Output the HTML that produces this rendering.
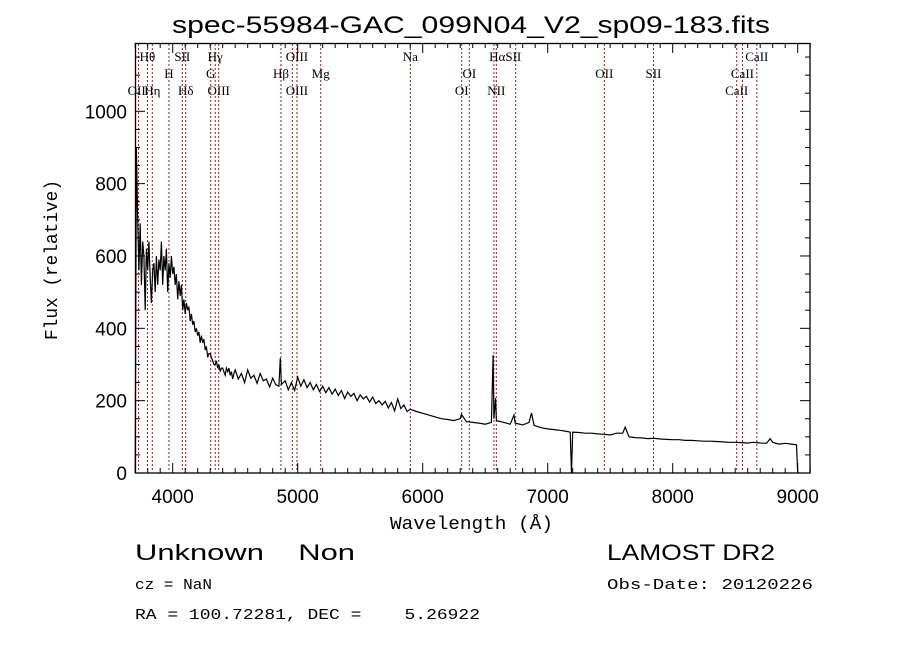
<!DOCTYPE html>
<html><head><meta charset="utf-8"><style>
html,body{margin:0;padding:0;background:#fff;}
svg text{fill:#000;}
</style></head><body>
<svg id="chart" width="900" height="649" xmlns="http://www.w3.org/2000/svg" style="font-family:'Liberation Sans',sans-serif">
<rect width="900" height="649" fill="#fff"/>
<text x="172" y="33" font-size="24" textLength="598" lengthAdjust="spacingAndGlyphs">spec-55984-GAC_099N04_V2_sp09-183.fits</text>
<g id="lines"></g>
<g id="labels" font-family="'Liberation Serif',serif" font-size="13"></g>
<g id="ticks" stroke="#000" stroke-width="1"></g>
<g id="ticklabels" font-size="19"></g>
<polyline id="spec" fill="none" stroke="#000" stroke-width="1.2"/>
<rect x="135.5" y="43.5" width="674.5" height="429.5" fill="none" stroke="#000" stroke-width="1.3"/>
<text x="390" y="529" font-size="18" font-family="'Liberation Mono',monospace" textLength="163" lengthAdjust="spacingAndGlyphs">Wavelength (Å)</text>
<text transform="translate(57,340) rotate(-90)" font-size="18" font-family="'Liberation Mono',monospace" textLength="160" lengthAdjust="spacingAndGlyphs">Flux (relative)</text>
<text x="135" y="560" font-size="22" xml:space="preserve" textLength="220" lengthAdjust="spacingAndGlyphs">Unknown    Non</text>
<text x="607" y="560" font-size="22" textLength="168" lengthAdjust="spacingAndGlyphs">LAMOST DR2</text>
<text x="135" y="589" font-size="15" font-family="'Liberation Mono',monospace" textLength="77" lengthAdjust="spacingAndGlyphs">cz = NaN</text>
<text x="607" y="589" font-size="15" font-family="'Liberation Mono',monospace" textLength="206" lengthAdjust="spacingAndGlyphs">Obs-Date: 20120226</text>
<text x="135" y="619" font-size="15" font-family="'Liberation Mono',monospace" xml:space="preserve" textLength="345" lengthAdjust="spacingAndGlyphs">RA = 100.72281, DEC =    5.26922</text>
</svg>
<script>
const blueStart = 3700, blueStep = 10;
const blueFlux = [0,900,700,560,690,520,640,600,450,620,560,640,540,470,560,580,500,600,520,590,560,640,520,600,560,620,500,580,540,600,550,570,520,550,480,530,490,520,450,480,440,470,450,460,420,440,410,420,390,400,380,390,360,380,360,370,340,350,320,330,330,320,310,300,300,310,290,300,280,290,290,280,270,290,280,290,270,280,260,275,285];
const redWave = [4525,4550,4575,4600,4625,4650,4675,4700,4725,4750,4775,4800,4825,4850,4861,4870,4900,4925,4950,4975,5000,5025,5050,5075,5100,5125,5150,5175,5200,5225,5250,5275,5300,5325,5350,5375,5400,5425,5450,5475,5500,5525,5550,5575,5600,5625,5650,5675,5700,5725,5750,5775,5800,5825,5850,5875,5900,5950,6000,6050,6100,6150,6200,6250,6300,6310,6350,6400,6450,6500,6550,6563,6570,6583,6590,6650,6700,6730,6740,6800,6850,6870,6890,6950,7000,7050,7100,7150,7180,7190,7200,7250,7300,7350,7400,7450,7500,7550,7600,7620,7650,7700,7750,7800,7850,7900,7950,8000,8050,8100,8150,8200,8250,8300,8350,8400,8450,8500,8550,8600,8650,8700,8750,8780,8800,8850,8900,8950,8990,9000];
const redFlux = [260,275,250,285,262,270,248,275,255,260,238,262,244,240,318,245,255,230,250,228,265,240,258,236,250,230,245,225,240,222,236,218,232,214,228,206,224,212,220,200,216,205,212,196,210,192,200,188,198,180,195,172,205,178,188,170,176,170,165,160,155,150,148,145,150,162,142,140,138,135,140,326,150,207,145,140,135,160,138,133,140,166,132,125,122,120,118,115,113,0,113,112,110,110,108,107,105,110,110,127,100,98,97,95,96,94,93,92,92,90,90,89,88,88,87,86,85,85,84,83,85,83,82,95,85,80,82,80,78,0];
const lineWave = [3727,3798,3837,3970,4077,4104,4304,4340,4368,4866,4957,4994,5184,5901,6312,6373,6570,6589,6744,7453,7846,8512,8558,8673];
const labelText = ['Hθ','SII','Hγ','OIII','Na','HαSII','CaII','H','G','Hβ','Mg','OI','OII','SII','CaII','OII','Hη','Hδ','OIII','OIII','OI','NII','CaII'];
const labelWave = [3798,4077,4340,4994,5901,6660,8673,3970,4304,4866,5184,6373,7453,7846,8558,3712,3837,4104,4368,4994,6312,6589,8512];
const labelRow = [0,0,0,0,0,0,0,1,1,1,1,1,1,1,1,2,2,2,2,2,2,2,2];
const xTicks = [4000,5000,6000,7000,8000,9000];
const yTicks = [0,200,400,600,800,1000];
const NS='http://www.w3.org/2000/svg';
const X0=135.2,XK=0.125,Y0=473,YK=0.3617;
function xs(w){return X0+(w-3700)*XK;}
function ys(f){return Y0-f*YK;}
function mk(tag,attrs,parent){const e=document.createElementNS(NS,tag);for(const k in attrs)e.setAttribute(k,attrs[k]);parent.appendChild(e);return e;}
const gL=document.getElementById('lines');
lineWave.forEach(w=>{const l=mk('line',{x1:xs(w),x2:xs(w),y1:44,y2:472,stroke:'#8b2020','stroke-width':1,'stroke-dasharray':'2,2'},gL);

});
const gT=document.getElementById('labels');
const rowY=[61,78,95];
labelText.forEach((t,i)=>{const e=mk('text',{x:xs(labelWave[i]),y:rowY[labelRow[i]],'text-anchor':'middle'},gT);e.textContent=t;

});
const gK=document.getElementById('ticks'),gTL=document.getElementById('ticklabels');
for(let w=3700;w<=9100;w+=100){const major=w%1000===0;const len=major?10:5;
mk('line',{x1:xs(w),x2:xs(w),y1:473,y2:473-len},gK);mk('line',{x1:xs(w),x2:xs(w),y1:43,y2:43+len},gK);}
xTicks.forEach(w=>{const e=mk('text',{x:xs(w),y:503,'text-anchor':'middle'},gTL);e.textContent=w;

});
for(let f=0;f<=1150;f+=50){const major=f%200===0;const len=major?10:5;
mk('line',{x1:135,x2:135+len,y1:ys(f),y2:ys(f)},gK);mk('line',{x1:810,x2:810-len,y1:ys(f),y2:ys(f)},gK);}
yTicks.forEach(f=>{const e=mk('text',{x:127,y:ys(f)+7,'text-anchor':'end'},gTL);e.textContent=f;

});
const pts=[];
blueFlux.forEach((f,i)=>pts.push(xs(blueStart+i*blueStep).toFixed(1)+','+ys(f).toFixed(1)));
redWave.forEach((w,i)=>pts.push(xs(w).toFixed(1)+','+ys(redFlux[i]).toFixed(1)));
document.getElementById('spec').setAttribute('points',pts.join(' '));
</script>
</body></html>
